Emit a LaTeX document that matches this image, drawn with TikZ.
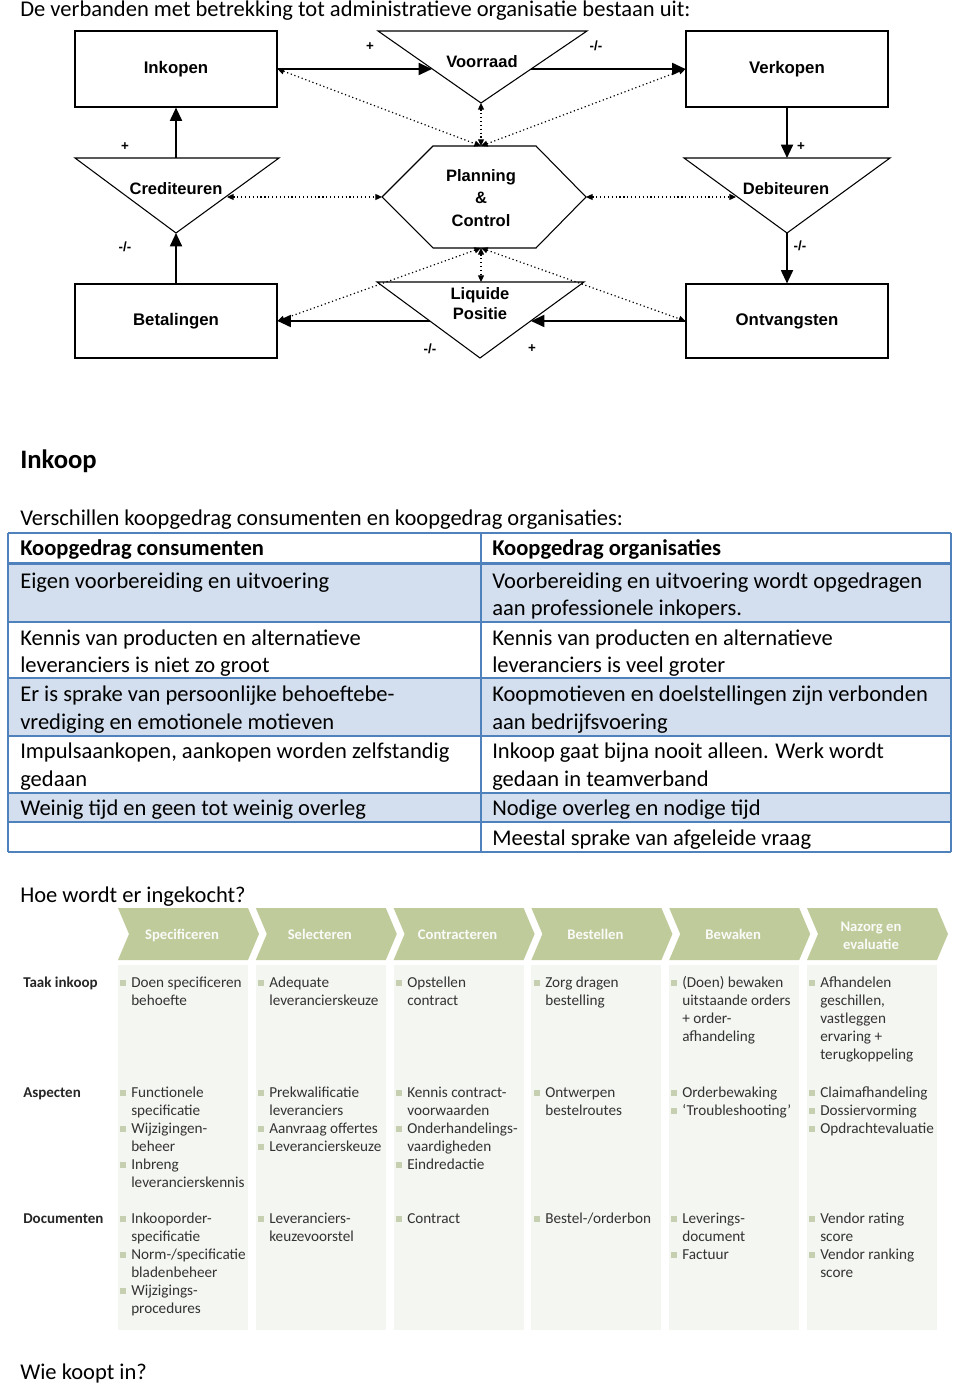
\documentclass[tikz,border=0pt]{standalone}
\usepackage{fontspec}
\setmainfont{Carlito}
\newfontfamily\diagfont{Liberation Sans}
\usepackage{xcolor}
\usetikzlibrary{positioning,arrows.meta,calc}

\definecolor{tblblue}{HTML}{4F81BD}
\definecolor{tblfill}{HTML}{D3DFEE}
\definecolor{chevgreen}{HTML}{BFCB9B}
\definecolor{colfill}{HTML}{F4F6F1}
\definecolor{bulletgreen}{HTML}{C6CFAF}
\definecolor{bodygray}{HTML}{333333}

\tikzset{
  box/.style={draw, line width=0.8pt, minimum width=151.5pt, minimum height=57pt, inner sep=0pt,
    font=\diagfont\bfseries\fontsize{12.6}{15}\selectfont},
  shapeline/.style={line width=0.8pt},
  lbl/.style={font=\diagfont\bfseries\fontsize{12.4}{16.9}\selectfont, align=center, inner sep=0pt},
  flow/.style={-{Triangle[length=10pt,width=9pt]}, line width=1.4pt},
  info/.style={{Triangle[length=5pt,width=4.5pt]}-{Triangle[length=5pt,width=4.5pt]}, dotted, line width=0.9pt},
  sign/.style={font=\diagfont\bfseries\fontsize{10}{10}\selectfont, inner sep=0pt},
  bodytext/.style={font=\fontsize{16.9}{20.25}\selectfont, anchor=base west, inner sep=0pt},
  headtext/.style={bodytext, font=\bfseries\fontsize{16.9}{20.25}\selectfont},
  tblline/.style={tblblue, line width=1.1pt},
  phase/.style={text=white!93!chevgreen, font=\bfseries\fontsize{11}{13.5}\selectfont, align=center, inner sep=0pt},
  rowlabel/.style={text=black!85, font=\bfseries\fontsize{11.25}{13.5}\selectfont, anchor=base west, inner sep=0pt},
  item/.style={text=bodygray, font=\fontsize{11.4}{13.5}\selectfont, anchor=base west, inner sep=0pt}
}

% one block of lines in a phase column: #1 name, #2 column x, #3 first baseline, #4 bullet lines, #5 lines
\newcommand{\blok}[5]{%
  \foreach \t [count=\n] in {#5} {\node[item] (#1-\n) at (#2+13,#3+18.1*\n-18.1) {\t};}
  \foreach \n in {#4} {\fill[bulletgreen] (#2+2,#3+18.1*\n-18.1-1.5) rectangle ++(5.5,-5.5);}
}

\begin{document}
\begin{tikzpicture}[x=0.75pt,y=-0.75pt]
    \useasboundingbox (0,0) rectangle (960,1387);

    % Title
    \node[bodytext] (titel) at (20,17) {De verbanden met betrekking tot administratieve organisatie bestaan uit:};

    % Boxes
    \node[box] (inkopen) at (176,69) {Inkopen};
    \node[box] (verkopen) at (787,69) {Verkopen};
    \node[box, minimum height=55.5pt] (betalingen) at (176,321) {Betalingen};
    \node[box, minimum height=55.5pt] (ontvangsten) at (787,321) {Ontvangsten};

    % Triangles
    \draw[shapeline] (378,31) -- (587,31) -- (481,103) coordinate (vr-p) -- cycle;
    \node[lbl] (voorraad) at (482,62) {Voorraad};
    \draw[shapeline] (75,158) -- (279,158) -- (176,233) coordinate (cr-p) -- cycle;
    \coordinate (cr-t) at (176,158);
    \node[lbl] (crediteuren) at (176,189) {Crediteuren};
    \draw[shapeline] (684,158) -- (890,158) -- (787,233) coordinate (db-p) -- cycle;
    \coordinate (db-t) at (787,158);
    \node[lbl] (debiteuren) at (786,189) {Debiteuren};
    \draw[shapeline] (377,282) -- (584,282) -- (480,358) -- cycle;
    \coordinate (lp-t) at (481,282);
    \node[lbl, font=\diagfont\bfseries\fontsize{12.4}{15}\selectfont] (liquide) at (480,304) {Liquide\\Positie};

    % Hexagon
    \draw[shapeline] (382,197) coordinate (pc-w) -- (433,146) -- (536,146) -- (586,197) coordinate (pc-e)
        -- (536,248) -- (433,248) -- cycle;
    \coordinate (pc-n) at (481,146);
    \coordinate (pc-s) at (481,248);
    \node[lbl] (planning) at (481,198) {Planning\\\&\\Control};

    % Points on the triangle edges
    \coordinate (vr-in) at (432,69);
    \coordinate (vr-out) at (531,69);
    \coordinate (lp-in) at (531,321);
    \coordinate (lp-out) at (430,321);
    \coordinate (cr-r) at (227,197);
    \coordinate (db-l) at (736,197);

    % Goods and money flows
    \draw[flow] (inkopen.east) -- (vr-in);
    \draw[flow] (vr-out) -- (verkopen.west);
    \draw[flow] (verkopen.south) -- (db-t);
    \draw[flow] (db-p) -- (ontvangsten.north);
    \draw[flow] (ontvangsten.west) -- (lp-in);
    \draw[flow] (lp-out) -- (betalingen.east);
    \draw[flow] (betalingen.north) -- (cr-p);
    \draw[flow] (cr-t) -- (inkopen.south);

    % Information lines
    \draw[info] (inkopen.east) -- (pc-n);
    \draw[info] (pc-n) -- (verkopen.west);
    \draw[info] (vr-p) -- (pc-n);
    \draw[info] (cr-r) -- (pc-w);
    \draw[info] (pc-e) -- (db-l);
    \draw[info] (pc-s) -- (betalingen.east);
    \draw[info] (pc-s) -- (ontvangsten.west);
    \draw[info] (pc-s) -- (lp-t);

    % Signs
    \node[sign] (s1) at (370,47) {+};
    \node[sign] (s2) at (596,46) {-/-};
    \node[sign] (s3) at (801,147) {+};
    \node[sign] (s4) at (800,246) {-/-};
    \node[sign] (s5) at (532,349) {+};
    \node[sign] (s6) at (430,349) {-/-};
    \node[sign] (s7) at (125,247) {-/-};
    \node[sign] (s8) at (125,147) {+};

    % Inkoop heading and table
    \node[bodytext, font=\bfseries\fontsize{20}{24}\selectfont] (inkoop) at (20,468) {Inkoop};
    \node[bodytext] (verschil) at (20,525) {Verschillen koopgedrag consumenten en koopgedrag organisaties:};
    \fill[tblfill] (8,565) rectangle (951,622);
    \fill[tblfill] (8,678) rectangle (951,736);
    \fill[tblfill] (8,793) rectangle (951,822);
    \foreach \y in {533,622,678,736,793,822,852} \draw[tblline] (8,\y) -- (951,\y);
    \draw[tblline, line width=2.2pt] (8,563.5) -- (951,563.5);
    \foreach \x in {8,481,951} \draw[tblline] (\x,533) -- (\x,852);
    \node[headtext] (kop-l) at (20,555) {Koopgedrag consumenten};
    \node[headtext] (kop-r) at (492,555) {Koopgedrag organisaties};
    \foreach \y/\l/\r [count=\i] in {
        588/{Eigen voorbereiding en uitvoering}/{Voorbereiding en uitvoering wordt opgedragen},
        615/{}/{aan professionele inkopers.},
        645/{Kennis van producten en alternatieve}/{Kennis van producten en alternatieve},
        672/{leveranciers is niet zo groot}/{leveranciers is veel groter},
        701/{Er is sprake van persoonlijke behoeftebe-}/{Koopmotieven en doelstellingen zijn verbonden},
        729/{vrediging en emotionele motieven}/{aan bedrijfsvoering},
        758/{Impulsaankopen, aankopen worden zelfstandig}/{Inkoop gaat bijna nooit alleen. Werk wordt},
        786/{gedaan}/{gedaan in teamverband},
        815/{Weinig tijd en geen tot weinig overleg}/{Nodige overleg en nodige tijd},
        845/{}/{Meestal sprake van afgeleide vraag}} {
        \node[bodytext] (rij\i-l) at (20,\y) {\l};
        \node[bodytext] (rij\i-r) at (492,\y) {\r};
    }

    % Purchasing process
    \node[bodytext] (hoe) at (20,902) {Hoe wordt er ingekocht?};
    \foreach \lab [count=\i] in {Specificeren,Selecteren,Contracteren,Bestellen,Bewaken,{}} {
        \pgfmathsetmacro\xo{118+137.8*(\i-1)}
        \fill[colfill] (\xo,965) rectangle ++(130,365);
        \fill[chevgreen] (\xo,908) -- ++(130,0) -- ++(11,26) -- ++(-11,26) -- ++(-130,0) -- ++(11,-26) -- cycle;
        \node[phase, anchor=base] (fase\i) at (\xo+64,939) {\lab};
    }
    \node[phase] (fase6b) at (871,936) {Nazorg en\\evaluatie};
    \node[rowlabel] (taak) at (23,987) {Taak inkoop};
    \node[rowlabel] (aspecten) at (23,1097) {Aspecten};
    \node[rowlabel] (documenten) at (23,1223) {Documenten};

    \blok{k1t}{118}{987}{1}{Doen specificeren,behoefte}
    \blok{k1a}{118}{1097}{1,3,5}{Functionele,specificatie,Wijzigingen-,beheer,Inbreng,leverancierskennis}
    \blok{k1d}{118}{1223}{1,3,5}{Inkooporder-,specificatie,Norm-/specificatie,bladenbeheer,Wijzigings-,procedures}
    \blok{k2t}{256}{987}{1}{Adequate,leverancierskeuze}
    \blok{k2a}{256}{1097}{1,3,4}{Prekwalificatie,leveranciers,Aanvraag offertes,Leverancierskeuze}
    \blok{k2d}{256}{1223}{1}{Leveranciers-,keuzevoorstel}
    \blok{k3t}{394}{987}{1}{Opstellen,contract}
    \blok{k3a}{394}{1097}{1,3,5}{Kennis contract-,voorwaarden,Onderhandelings-,vaardigheden,Eindredactie}
    \blok{k3d}{394}{1223}{1}{Contract}
    \blok{k4t}{532}{987}{1}{Zorg dragen,bestelling}
    \blok{k4a}{532}{1097}{1}{Ontwerpen,bestelroutes}
    \blok{k4d}{532}{1223}{1}{Bestel-/orderbon}
    \blok{k5t}{669}{987}{1}{{(Doen) bewaken},uitstaande orders,+ order-,afhandeling}
    \blok{k5a}{669}{1097}{1,2}{Orderbewaking,‘Troubleshooting’}
    \blok{k5d}{669}{1223}{1,3}{Leverings-,document,Factuur}
    \blok{k6t}{807}{987}{1}{Afhandelen,{geschillen,},vastleggen,ervaring +,terugkoppeling}
    \blok{k6a}{807}{1097}{1,2,3}{Claimafhandeling,Dossiervorming,Opdrachtevaluatie}
    \blok{k6d}{807}{1223}{1,3}{Vendor rating,score,Vendor ranking,score}

    \node[bodytext] (wie) at (20,1379) {Wie koopt in?};
\end{tikzpicture}
\end{document}
